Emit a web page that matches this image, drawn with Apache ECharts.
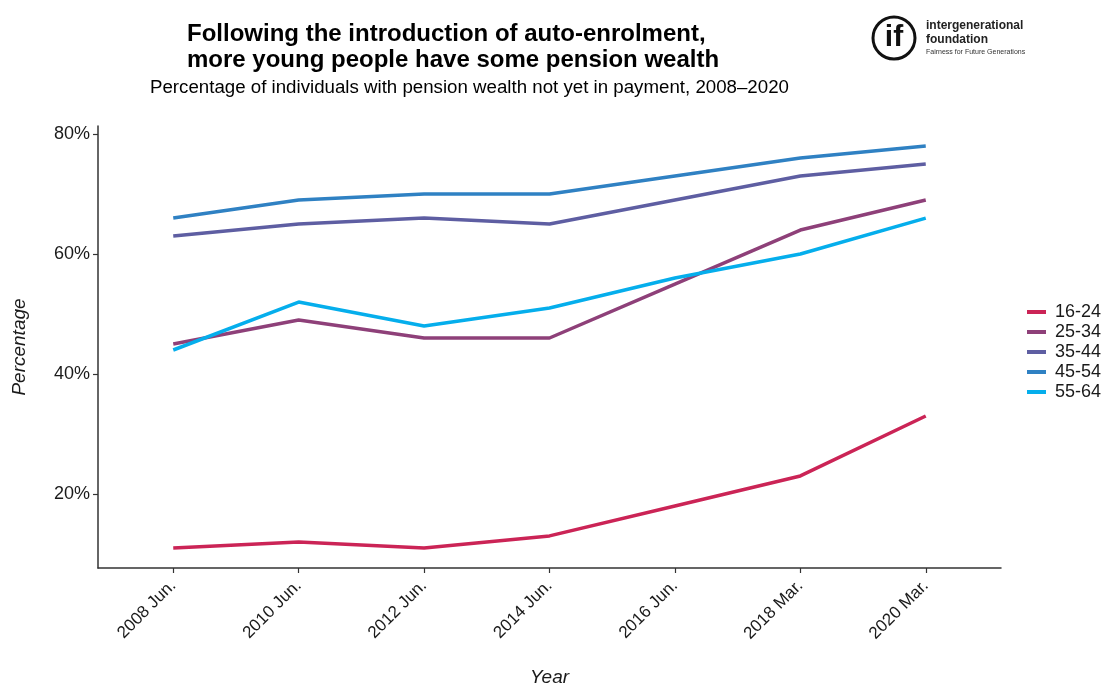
<!DOCTYPE html>
<html><head><meta charset="utf-8">
<script src="https://cdn.jsdelivr.net/npm/echarts@6/dist/echarts.min.js"></script>
<style>html,body{margin:0;padding:0;background:#fff}#c{width:1104px;height:684px}</style>
</head><body><div id="c"></div>
<script>
const categories = ['2008 Jun.','2010 Jun.','2012 Jun.','2014 Jun.','2016 Jun.','2018 Mar.','2020 Mar.'];
const seriesNames = ['16-24','25-34','35-44','45-54','55-64'];
const s1624 = [11, 12, 11, 13, 18, 23, 33];
const s2534 = [45, 49, 46, 46, 55, 64, 69];
const s3544 = [63, 65, 66, 65, 69, 73, 75];
const s4554 = [66, 69, 70, 70, 73, 76, 78];
const s5564 = [44, 52, 48, 51, 56, 60, 66];
const yTicks = [20, 40, 60, 80];
const colors = ['#CB2456', '#8E4079', '#5E5EA2', '#2F81C3', '#05AEEC'];

const allData = [s1624, s2534, s3544, s4554, s5564];
const xIdx = categories.map((c, i) => i);
const font = 'Liberation Sans, Arial, sans-serif';

const chart = echarts.init(document.getElementById('c'));
chart.setOption({
  backgroundColor: '#fff',
  animation: false,
  textStyle: { fontFamily: font },
  grid: { left: 98, right: 103, top: 126, bottom: 116, outerBoundsMode: 'none', containLabel: false },
  legend: {
    orient: 'vertical', left: 1027, top: 303, padding: 0,
    itemWidth: 19, itemHeight: 4, itemGap: 2,
    icon: 'rect',
    textStyle: { fontSize: 18, color: '#1a1a1a', fontFamily: font, padding: [0, 0, 0, 4] },
    data: seriesNames
  },
  xAxis: {
    type: 'value', min: -0.6, max: 6.6,
    splitLine: { show: false },
    axisLine: { onZero: false, lineStyle: { color: '#333', width: 1.5 } },
    axisTick: { show: true, customValues: xIdx, length: 5, lineStyle: { color: '#333', width: 1.2 } },
    axisLabel: {
      customValues: xIdx, rotate: 45, fontSize: 17, color: '#1a1a1a', margin: 15,
      formatter: v => categories[Math.round(v)]
    },
    name: 'Year', nameLocation: 'middle', nameGap: 100,
    nameTextStyle: { fontSize: 19, fontStyle: 'italic', color: '#1a1a1a' }
  },
  yAxis: {
    type: 'value', min: 7.65, max: 81.35,
    splitLine: { show: false },
    axisLine: { show: true, onZero: false, lineStyle: { color: '#333', width: 1.5 } },
    axisTick: { show: true, customValues: yTicks, length: 5, lineStyle: { color: '#333', width: 1.2 } },
    axisLabel: { customValues: yTicks, fontSize: 18, color: '#1a1a1a', margin: 8, formatter: v => v + '%' },
    name: 'Percentage', nameLocation: 'middle', nameGap: 69,
    nameTextStyle: { fontSize: 19, fontStyle: 'italic', color: '#1a1a1a' }
  },
  series: seriesNames.map((n, k) => ({
    name: n, type: 'line', symbol: 'none',
    color: colors[k],
    lineStyle: { width: 3.5, color: colors[k] },
    data: allData[k].map((v, i) => [i, v])
  })),
  graphic: [
    { type: 'text', left: 187, top: 21, style: { text: 'Following the introduction of auto-enrolment,\nmore young people have some pension wealth', font: 'bold 24px ' + font, fill: '#000', lineHeight: 26 } },
    { type: 'text', left: 150, top: 78, style: { text: 'Percentage of individuals with pension wealth not yet in payment, 2008–2020', font: '18.7px ' + font, fill: '#000' } },
    { type: 'circle', shape: { cx: 894, cy: 38, r: 21 }, style: { fill: 'none', stroke: '#111', lineWidth: 3 } },
    { type: 'text', x: 894, y: 38, style: { text: 'if', font: 'bold 30px ' + font, fill: '#111', align: 'center', verticalAlign: 'middle' } },
    { type: 'text', left: 926, top: 20, style: { text: 'intergenerational', font: 'bold 12px ' + font, fill: '#222' } },
    { type: 'text', left: 926, top: 34, style: { text: 'foundation', font: 'bold 12px ' + font, fill: '#222' } },
    { type: 'text', left: 926, top: 49, style: { text: 'Fairness for Future Generations', font: '7px ' + font, fill: '#333' } }
  ]
});
</script></body></html>
